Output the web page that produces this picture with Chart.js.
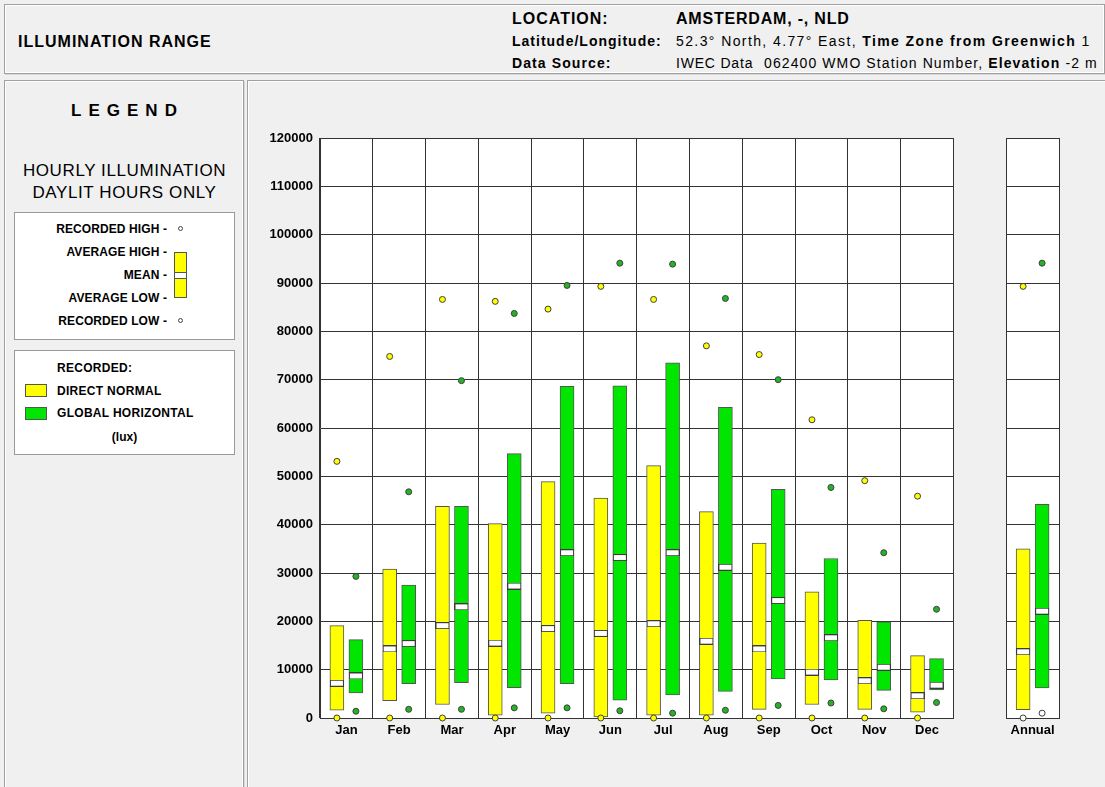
<!DOCTYPE html>
<html>
<head>
<meta charset="utf-8">
<script src="https://cdn.jsdelivr.net/npm/chart.js@4/dist/chart.umd.min.js"></script>
<style>
  html,body{margin:0;padding:0;}
  body{width:1105px;height:787px;background:#f0f0f0;position:relative;overflow:hidden;font-family:"Liberation Sans",Arial,sans-serif;color:#000;}
  .panel{position:absolute;box-sizing:border-box;border:1px solid #a0a0a0;box-shadow:inset 1px 1px 0 #fff, inset -1px -1px 0 #fff, 1px 1px 0 #d8d8d8;}
  .abs{position:absolute;white-space:nowrap;}
  .b{font-weight:bold;}
  .box{position:absolute;background:#fff;border:1px solid #9a9a9a;box-sizing:border-box;}
  .lbl{position:absolute;right:0;font-weight:bold;font-size:12px;letter-spacing:0.1px;transform:translateY(-50%);}
  .h1{font-size:16px;font-weight:bold;letter-spacing:1px;}
  .h2{font-size:14px;letter-spacing:1.1px;}
</style>
</head>
<body>
<div class="panel" style="left:4px;top:4px;width:1101px;height:70px;"></div>
<div class="abs h1" style="left:18px;top:33px;">ILLUMINATION RANGE</div>
<div class="abs h1" style="left:512px;top:10px;">LOCATION:</div>
<div class="abs h1" style="left:676px;top:10px;letter-spacing:0.8px;">AMSTERDAM, -, NLD</div>
<div class="abs h2 b" style="left:512px;top:33px;letter-spacing:1px;">Latitude/Longitude:</div>
<div class="abs h2" style="left:676px;top:33px;letter-spacing:1.4px;">52.3° North, 4.77° East, <b>Time Zone from Greenwich</b> 1</div>
<div class="abs h2 b" style="left:512px;top:55px;">Data Source:</div>
<div class="abs h2" style="left:676px;top:55px;letter-spacing:0.8px;">IWEC Data</div>
<div class="abs h2" style="left:764px;top:55px;">062400 WMO Station Number, <b>Elevation</b> -2 m</div>

<div class="panel" style="left:4px;top:80px;width:240px;height:712px;"></div>
<div class="panel" style="left:247px;top:80px;width:862px;height:712px;"></div>

<div class="abs b" style="left:0;width:248px;text-align:center;top:101px;font-size:17px;letter-spacing:7px;padding-left:7px;box-sizing:border-box;">LEGEND</div>
<div class="abs" style="left:0;width:249px;text-align:center;top:161px;font-size:17px;letter-spacing:0.6px;">HOURLY ILLUMINATION</div>
<div class="abs" style="left:0;width:249px;text-align:center;top:183px;font-size:17px;letter-spacing:0.6px;">DAYLIT HOURS ONLY</div>

<div class="box" style="left:14px;top:212px;width:221px;height:128px;">
  <div style="position:absolute;left:0;width:152px;top:0;height:128px;">
    <div class="lbl" style="top:16px;">RECORDED HIGH -</div>
    <div class="lbl" style="top:39px;">AVERAGE HIGH -</div>
    <div class="lbl" style="top:62px;">MEAN -</div>
    <div class="lbl" style="top:85px;">AVERAGE LOW -</div>
    <div class="lbl" style="top:108px;">RECORDED LOW -</div>
  </div>
  <div style="position:absolute;left:163px;top:13px;width:5px;height:5px;border:1px solid #444;border-radius:50%;background:#fff;box-sizing:border-box;"></div>
  <div style="position:absolute;left:159px;top:39px;width:13px;height:46px;border:1px solid #555;background:#ffff00;box-sizing:border-box;"></div>
  <div style="position:absolute;left:159px;top:59px;width:13px;height:7px;border:1px solid #555;background:#fff;box-sizing:border-box;"></div>
  <div style="position:absolute;left:163px;top:105px;width:5px;height:5px;border:1px solid #444;border-radius:50%;background:#fff;box-sizing:border-box;"></div>
</div>

<div class="box" style="left:14px;top:350px;width:221px;height:105px;">
  <div class="abs b" style="left:42px;top:10px;font-size:12px;letter-spacing:0.3px;">RECORDED:</div>
  <div style="position:absolute;left:10px;top:33px;width:22px;height:13px;border:1px solid #555;background:#ffff00;box-sizing:border-box;"></div>
  <div class="abs b" style="left:42px;top:33px;font-size:12px;letter-spacing:0.3px;">DIRECT NORMAL</div>
  <div style="position:absolute;left:10px;top:56px;width:22px;height:13px;border:1px solid #555;background:#00e600;box-sizing:border-box;"></div>
  <div class="abs b" style="left:42px;top:55px;font-size:12px;letter-spacing:0.3px;">GLOBAL HORIZONTAL</div>
  <div class="abs b" style="left:0;width:219px;text-align:center;top:79px;font-size:12px;">(lux)</div>
</div>

<canvas id="c" width="858" height="707" style="position:absolute;left:247px;top:80px;width:858px;height:707px;"></canvas>

<script>
// ---- DATA ----
const categories = ['Jan','Feb','Mar','Apr','May','Jun','Jul','Aug','Sep','Oct','Nov','Dec','','Annual'];
const yTickStep = 10000;
const yMax = 120000;

// Direct normal illumination (lux)
const dnAvgHigh = [19100, 30800, 43800, 40200, 48900, 45500, 52200, 42700, 36200, 26100, 20200, 12900, null, 35000];
const dnAvgLow  = [ 1600,  3600,  2800,   600,  1000,   200,   600,   600,  1800,  2800,  1800,  1200, null,  1700];
const dnMean    = [ 7200, 14300, 19100, 15500, 18500, 17500, 19500, 15900, 14300,  9500,  7700,  4600, null, 13700];
const dnRecHigh = [53100, 74800, 86600, 86200, 84600, 89300, 86600, 77000, 75200, 61700, 49100, 45900, null, 89300];
const dnRecLow  = [    0,     0,     0,     0,     0,     0,     0,     0,     0,     0,     0,     0, null,     0];

// Global horizontal illumination (lux)
const ghAvgHigh = [16200, 27500, 43800, 54700, 68600, 68700, 73500, 64300, 47300, 33000, 19900, 12300, null, 44200];
const ghAvgLow  = [ 5200,  7100,  7300,  6300,  7100,  3700,  4800,  5500,  8100,  7900,  5700,  5800, null,  6200];
const ghMean    = [ 8700, 15400, 23000, 27300, 34200, 33200, 34200, 31200, 24300, 16600, 10500,  6800, null, 22100];
const ghRecHigh = [29300, 46800, 69800, 83700, 89500, 94100, 93900, 86800, 70000, 47700, 34200, 22500, null, 94100];
const ghRecLow  = [ 1400,  1800,  1800,  2100,  2100,  1500,  1000,  1600,  2600,  3100,  1900,  3200, null,  1000];

// ---- STYLE ----
const YELLOW = '#ffff00', GREEN = '#00e600', GREEN_DOT = '#22b422', EDGE = '#555555', GRID = '#333333';
const OFF = 0.18;        // offset of each bar's centre from its category centre (category units)
const BAR_PX = 14;       // bar thickness in px
const FONT = '"Liberation Sans", Arial, sans-serif';
const gapIndex = categories.indexOf('');
const annualIndex = categories.indexOf('Annual');

const pts = (vals, off) => vals.map((v, i) => v == null ? null : {x: i + off, y: v}).filter(Boolean);
const rangePts = (lo, hi, off) => lo.map((v, i) => v == null ? null : {x: i + off, y: [v, hi[i]]}).filter(Boolean);

// mean marker image: white band with dark edges
const meanMark = document.createElement('canvas');
meanMark.width = BAR_PX; meanMark.height = 7;
(function(){ const g = meanMark.getContext('2d'); g.fillStyle = '#3a3a3a'; g.fillRect(0,0,BAR_PX,7); g.fillStyle = '#ffffff'; g.fillRect(1,1,BAR_PX-2,5); })();

const panelPlugin = {
  id: 'panel',
  beforeDraw(chart) {
    const {ctx, chartArea: a} = chart;
    ctx.save();
    ctx.fillStyle = '#ffffff';
    ctx.fillRect(a.left, a.top, a.right - a.left, a.bottom - a.top);
    ctx.restore();
  },
  beforeDatasetsDraw(chart) {
    const {ctx, chartArea: a, scales: {x}} = chart;
    const w = (a.right - a.left) / categories.length;
    const l = x.getPixelForValue(gapIndex) - w / 2;
    const r = l + w;
    const pl = Math.round(l - 0.5) + 1, pr = Math.round(r - 0.5);
    ctx.save();
    ctx.fillStyle = '#f0f0f0';
    ctx.fillRect(pl, a.top - 3, pr - pl, a.bottom - a.top + 6);
    ctx.restore();
  }
};

const barDS = (label, lo, hi, off, fill) => ({
  type: 'bar', label, xAxisID: 'xd', order: 3, grouped: false,
  data: rangePts(lo, hi, off),
  backgroundColor: fill, borderColor: EDGE, borderWidth: 1, borderSkipped: false,
  barThickness: BAR_PX
});
const dotDS = (vals, off, fill, lowWhite) => ({
  type: 'line', xAxisID: 'xd', showLine: false, order: 1, clip: false,
  data: pts(vals, off),
  pointRadius: 3, pointHoverRadius: 3, pointBorderWidth: 1, pointBorderColor: '#404040',
  pointBackgroundColor: ctx => (lowWhite && ctx.raw && Math.round(ctx.raw.x) === annualIndex) ? '#ffffff' : fill
});
const meanDS = (vals, off) => ({
  type: 'line', xAxisID: 'xd', showLine: false, order: 2,
  data: pts(vals, off), pointStyle: meanMark, pointRadius: 7, pointHoverRadius: 7
});

new Chart(document.getElementById('c'), {
  type: 'bar',
  data: {
    labels: categories,
    datasets: [
      barDS('Direct Normal', dnAvgLow, dnAvgHigh, -OFF, YELLOW),
      barDS('Global Horizontal', ghAvgLow, ghAvgHigh, OFF, GREEN),
      meanDS(dnMean, -OFF),
      meanDS(ghMean, OFF),
      dotDS(dnRecHigh, -OFF, YELLOW, false),
      dotDS(dnRecLow, -OFF, YELLOW, true),
      dotDS(ghRecHigh, OFF, GREEN_DOT, false),
      dotDS(ghRecLow, OFF, GREEN_DOT, true)
    ]
  },
  options: {
    responsive: false,
    animation: false,
    events: [],
    layout: {padding: {top: 58, right: 46, left: 0, bottom: 0}},
    plugins: {legend: {display: false}, tooltip: {enabled: false}, title: {display: false}},
    scales: {
      x: {
        type: 'category', labels: categories, offset: true,
        grid: {offset: true, color: GRID, lineWidth: 1, drawTicks: false},
        border: {color: GRID, width: 1},
        ticks: {color: '#000', font: {family: FONT, size: 13, weight: 'bold'}, padding: 5, maxRotation: 0, autoSkip: false},
        afterFit: s => { s.height = 69; }
      },
      xd: {type: 'linear', display: false, offset: false, grid: {offset: false}, min: -0.5, max: categories.length - 0.5},
      y: {
        min: 0, max: yMax,
        grid: {color: GRID, lineWidth: 1, drawTicks: false},
        border: {color: GRID, width: 1},
        ticks: {stepSize: yTickStep, color: '#000', font: {family: FONT, size: 13, weight: 'bold'}, padding: 7, callback: v => String(v)},
        afterFit: s => { s.width = 73; }
      }
    }
  },
  plugins: [panelPlugin]
});
</script>
</body>
</html>
